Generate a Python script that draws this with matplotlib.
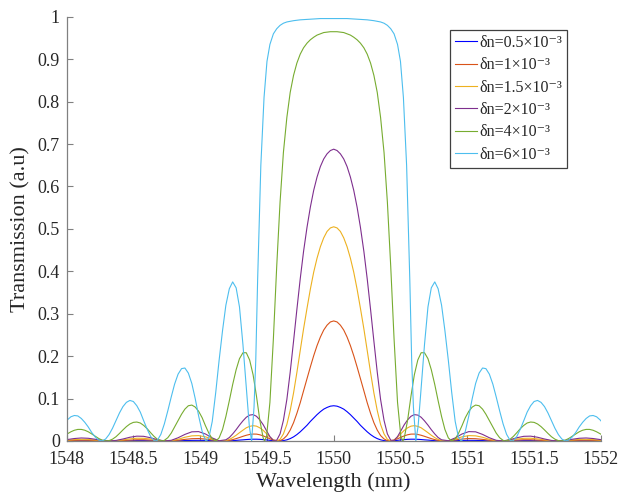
import numpy as np
import matplotlib
matplotlib.use("Agg")
import matplotlib.pyplot as plt

plt.rcParams['font.family'] = ['Liberation Serif', 'DejaVu Serif']

# spectra are symmetric around the Bragg wavelength: half profiles read off
# the figure (offset from 1550 nm -> transmission)
center = 1550.0

off_weak = [0, 0.025, 0.05, 0.075, 0.10, 0.125, 0.15, 0.175, 0.20, 0.226,
            0.251, 0.276, 0.301, 0.326, 0.351, 0.377, 0.402, 0.427, 0.452, 0.478,
            0.503, 0.528, 0.554, 0.579, 0.604, 0.630, 0.655, 0.680, 0.706, 0.731,
            0.757, 0.782, 0.808, 0.859, 0.910, 0.961, 1.012, 1.063, 1.115, 1.166,
            1.217, 1.269, 1.320, 1.372, 1.424, 1.475, 1.527, 1.579, 1.631, 1.683,
            1.735, 1.787, 1.839, 1.891, 1.943, 1.996, 2.048]

t_05 = [0.083, 0.082, 0.079, 0.075, 0.069, 0.062, 0.054, 0.046, 0.037, 0.029,
        0.0215, 0.015, 0.0096, 0.0055, 0.0026, 0.0008, 0.0001, 0.0002, 0.0006, 0.0014,
        0.0024, 0.0031, 0.0038, 0.0041, 0.0041, 0.0038, 0.0033, 0.0026, 0.0020, 0.0013,
        0.0007, 0.0003, 0.0001, 0.0001, 0.0006, 0.0012, 0.0014, 0.0013, 0.0009, 0.0004,
        0.0001, 0.0, 0.0002, 0.0005, 0.0007, 0.0007, 0.0005, 0.0003, 0.0001, 0.0,
        0.0001, 0.0003, 0.0004, 0.0004, 0.0004, 0.0002, 0.0]

t_1 = [0.283, 0.2806, 0.273, 0.2615, 0.245, 0.2248, 0.201, 0.1746, 0.147, 0.1181,
       0.090, 0.0651, 0.043, 0.0256, 0.0127, 0.0047, 0.0007, 0.0001, 0.0019, 0.0051,
       0.0087, 0.0119, 0.0146, 0.0161, 0.0162, 0.0153, 0.0134, 0.0109, 0.0081, 0.0055,
       0.0031, 0.0013, 0.0003, 0.0003, 0.0023, 0.0045, 0.0057, 0.0053, 0.0037, 0.0016,
       0.0003, 0.0001, 0.0009, 0.0021, 0.0028, 0.0028, 0.0020, 0.0010, 0.0002, 0.0,
       0.0004, 0.0011, 0.0016, 0.0017, 0.0014, 0.0008, 0.0002]

t_15 = [0.505, 0.5023, 0.494, 0.4789, 0.458, 0.4309, 0.398, 0.358, 0.313, 0.2641,
        0.213, 0.1614, 0.113, 0.0719, 0.039, 0.0165, 0.0039, 0.0, 0.0025, 0.0090,
        0.017, 0.0249, 0.031, 0.0349, 0.036, 0.0344, 0.031, 0.0254, 0.0195, 0.0134,
        0.0079, 0.0036, 0.0010, 0.0005, 0.0046, 0.0097, 0.0126, 0.0120, 0.0087, 0.0038,
        0.0007, 0.0001, 0.0018, 0.0044, 0.0062, 0.0064, 0.0048, 0.0025, 0.0006, 0.0,
        0.0008, 0.0023, 0.0036, 0.0039, 0.0032, 0.0018, 0.0005]

t_2 = [0.688, 0.6848, 0.677, 0.6649, 0.647, 0.6222, 0.591, 0.5514, 0.504, 0.4467,
       0.382, 0.310, 0.235, 0.1624, 0.098, 0.0485, 0.0166, 0.0018, 0.0012, 0.0102,
       0.0239, 0.0381, 0.0499, 0.0582, 0.0621, 0.0609, 0.0558, 0.0474, 0.0373, 0.0266,
       0.0165, 0.0081, 0.0027, 0.0005, 0.0071, 0.0164, 0.0220, 0.0215, 0.0154, 0.0075,
       0.0015, 0.0001, 0.0029, 0.0075, 0.0109, 0.0113, 0.0087, 0.0046, 0.0012, 0.0,
       0.0013, 0.0040, 0.0063, 0.0070, 0.0057, 0.0033, 0.0010]

off_4 = [0, 0.025, 0.05, 0.075, 0.10, 0.125, 0.15, 0.175, 0.20, 0.226,
         0.251, 0.276, 0.301, 0.326, 0.351, 0.377, 0.402, 0.427, 0.452, 0.478,
         0.503, 0.518, 0.528, 0.554, 0.579, 0.604, 0.630, 0.655, 0.680, 0.706,
         0.731, 0.757, 0.782, 0.808, 0.833, 0.859, 0.884, 0.910, 0.935, 0.961,
         0.986, 1.012, 1.038, 1.063, 1.089, 1.115, 1.140, 1.166, 1.192, 1.217,
         1.243, 1.269, 1.287, 1.320, 1.346, 1.372, 1.398, 1.424, 1.449, 1.475,
         1.501, 1.527, 1.553, 1.579, 1.605, 1.631, 1.657, 1.683, 1.702, 1.735,
         1.761, 1.787, 1.813, 1.839, 1.865, 1.891, 1.917, 1.943, 1.969, 1.996,
         2.022, 2.048]
t_4 = [0.965, 0.965, 0.964, 0.963, 0.960, 0.957, 0.952, 0.946, 0.938, 0.927,
       0.912, 0.891, 0.862, 0.822, 0.763, 0.680, 0.563, 0.412, 0.241, 0.091,
       0.0106, 0.0, 0.0062, 0.0497, 0.1063, 0.156, 0.191, 0.208, 0.208, 0.194,
       0.168, 0.133, 0.095, 0.0575, 0.027, 0.007, 0.0, 0.0049, 0.018, 0.036,
       0.055, 0.070, 0.080, 0.0846, 0.083, 0.075, 0.063, 0.048, 0.033, 0.0186,
       0.0076, 0.0014, 0.0, 0.0037, 0.0107, 0.0196, 0.029, 0.0367, 0.0423, 0.0446,
       0.0438, 0.040, 0.0338, 0.026, 0.0177, 0.010, 0.0042, 0.0008, 0.0, 0.0019,
       0.0059, 0.0111, 0.0166, 0.0216, 0.0253, 0.0272, 0.0272, 0.0252, 0.0216, 0.0169,
       0.0118, 0.0070]

off_6 = [0, 0.05, 0.10, 0.15, 0.20, 0.251, 0.301, 0.351, 0.377, 0.402,
         0.427, 0.452, 0.478, 0.500, 0.522, 0.546, 0.570, 0.584, 0.597, 0.615,
         0.632, 0.650, 0.680, 0.706, 0.731, 0.757, 0.782, 0.808, 0.833, 0.859,
         0.884, 0.910, 0.935, 0.953, 0.961, 0.986, 1.012, 1.038, 1.063, 1.089,
         1.115, 1.140, 1.166, 1.192, 1.217, 1.243, 1.269, 1.295, 1.320, 1.336,
         1.346, 1.372, 1.398, 1.424, 1.449, 1.475, 1.501, 1.527, 1.553, 1.579,
         1.605, 1.631, 1.657, 1.683, 1.709, 1.735, 1.761, 1.787, 1.813, 1.839,
         1.865, 1.891, 1.917, 1.943, 1.969, 1.996, 2.022, 2.048]
t_6 = [0.996, 0.996, 0.996, 0.995, 0.994, 0.993, 0.991, 0.988, 0.985, 0.980,
       0.972, 0.960, 0.935, 0.895, 0.810, 0.650, 0.380, 0.190, 0.080, 0.0,
       0.034, 0.105, 0.227, 0.316, 0.361, 0.375, 0.359, 0.320, 0.260, 0.189,
       0.114, 0.046, 0.0079, 0.0, 0.0014, 0.023, 0.059, 0.1005, 0.1355, 0.160,
       0.172, 0.1705, 0.1575, 0.134, 0.104, 0.071, 0.040, 0.0155, 0.0021, 0.0,
       0.0010, 0.0107, 0.028, 0.048, 0.068, 0.083, 0.093, 0.0955, 0.091, 0.081,
       0.066, 0.048, 0.030, 0.015, 0.0045, 0.0001, 0.0021, 0.0094, 0.020, 0.033,
       0.044, 0.053, 0.059, 0.060, 0.057, 0.0495, 0.040, 0.029]

labels = ['δn=0.5×10⁻³', 'δn=1×10⁻³', 'δn=1.5×10⁻³',
          'δn=2×10⁻³', 'δn=4×10⁻³', 'δn=6×10⁻³']
colors = ['#0000ff', '#d95319', '#edb120', '#7e2f8e', '#77ac30', '#4dbeee']

series = [(off_weak, t_05), (off_weak, t_1), (off_weak, t_15), (off_weak, t_2),
          (off_4, t_4), (off_6, t_6)]

fig = plt.figure(figsize=(6.18, 4.96), dpi=100)
ax = fig.add_axes([0.108, 0.111, 0.864, 0.855])

for (off, t), c, lab in zip(series, colors, labels):
    off = np.array(off)
    t = np.array(t)
    wl = np.concatenate([center - off[::-1], center + off[1:]])
    tr = np.concatenate([t[::-1], t[1:]])
    ax.plot(wl, tr, color=c, lw=0.8, label=lab)

ax.set_xlim(1548, 1552)
ax.set_ylim(0, 1)
xt = [1548, 1548.5, 1549, 1549.5, 1550, 1550.5, 1551, 1551.5, 1552]
ax.set_xticks(xt)
ax.set_xticklabels(['1548', '1548.5', '1549', '1549.5', '1550', '1550.5', '1551', '1551.5', '1552'])
yt = [0, 0.1, 0.2, 0.3, 0.4, 0.5, 0.6, 0.7, 0.8, 0.9, 1]
ax.set_yticks(yt)
ax.set_yticklabels(['0', '0.1', '0.2', '0.3', '0.4', '0.5', '0.6', '0.7', '0.8', '0.9', '1'])
ax.tick_params(direction='in', length=4, width=0.8, color='#808080',
               labelsize=13, labelcolor='#262626')
ax.tick_params(axis='x', pad=7)
ax.tick_params(axis='y', pad=5)
for s in ['top', 'right']:
    ax.spines[s].set_visible(False)
for s in ['left', 'bottom']:
    ax.spines[s].set_color('#808080')
    ax.spines[s].set_linewidth(0.9)

ax.set_xlabel('Wavelength (nm)', fontsize=16, color='#262626', labelpad=3)
ax.set_ylabel('Transmission (a.u)', fontsize=16, color='#262626', labelpad=5)

leg = ax.legend(loc='upper right', bbox_to_anchor=(567 / 618, 1 - 30 / 496),
                bbox_transform=fig.transFigure, borderaxespad=0, fontsize=11.5,
                handlelength=1.4, handletextpad=0.15, labelspacing=0.4,
                borderpad=0.3, fancybox=False, framealpha=1)
leg.get_frame().set_edgecolor('#404040')
leg.get_frame().set_linewidth(0.9)
for txt in leg.get_texts():
    txt.set_color('#262626')

fig.savefig('out.png', dpi=100)
